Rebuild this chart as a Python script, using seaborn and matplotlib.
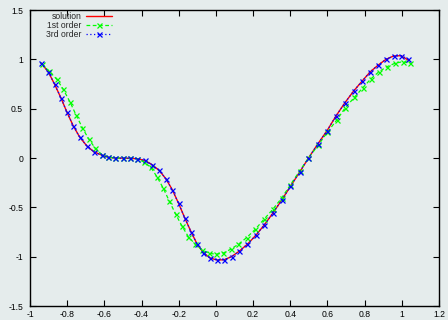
import matplotlib
matplotlib.use("Agg")
import matplotlib.pyplot as plt
import seaborn as sns
import numpy as np

# ---- data ----
solution_x = [-0.941, -0.902, -0.868, -0.834, -0.801, -0.767, -0.732, -0.694, -0.657, -0.615,
              -0.579, -0.542, -0.501, -0.461, -0.422, -0.382, -0.345, -0.306, -0.270, -0.235,
              -0.201, -0.167, -0.134, -0.102, -0.068, -0.032, 0.006, 0.044, 0.084, 0.125,
              0.169, 0.215, 0.260, 0.307, 0.354, 0.401, 0.450, 0.497, 0.548, 0.598,
              0.646, 0.694, 0.741, 0.788, 0.831, 0.874, 0.915, 0.956, 0.996, 1.040]
solution_y = [0.962, 0.875, 0.748, 0.611, 0.463, 0.324, 0.210, 0.122, 0.064, 0.030,
              0.007, 0.000, -0.002, -0.003, -0.008, -0.025, -0.066, -0.125, -0.208, -0.320,
              -0.459, -0.610, -0.747, -0.869, -0.958, -1.013, -1.034, -1.031, -1.000, -0.945,
              -0.875, -0.783, -0.679, -0.557, -0.426, -0.287, -0.145, -0.003, 0.142, 0.277,
              0.426, 0.560, 0.679, 0.783, 0.875, 0.943, 1.000, 1.034, 1.037, 0.985]

first_x = [-0.938, -0.898, -0.856, -0.821, -0.785, -0.753, -0.719, -0.684, -0.649, -0.614,
           -0.579, -0.541, -0.501, -0.461, -0.422, -0.386, -0.350, -0.317, -0.283, -0.250,
           -0.216, -0.182, -0.148, -0.111, -0.073, -0.037, 0.000, 0.040, 0.079, 0.121,
           0.166, 0.212, 0.260, 0.306, 0.353, 0.401, 0.450, 0.498, 0.551, 0.599,
           0.650, 0.696, 0.745, 0.790, 0.833, 0.877, 0.920, 0.963, 1.005, 1.046]
first_y = [0.953, 0.882, 0.798, 0.696, 0.568, 0.439, 0.309, 0.191, 0.099, 0.035,
           0.007, 0.000, -0.002, -0.003, -0.010, -0.041, -0.096, -0.190, -0.307, -0.439,
           -0.571, -0.692, -0.798, -0.875, -0.932, -0.966, -0.975, -0.963, -0.925, -0.874,
           -0.806, -0.722, -0.618, -0.520, -0.408, -0.271, -0.132, 0.000, 0.132, 0.260,
           0.385, 0.510, 0.615, 0.712, 0.801, 0.875, 0.925, 0.960, 0.976, 0.960]

third_x = [-0.941, -0.902, -0.868, -0.834, -0.801, -0.767, -0.732, -0.694, -0.657, -0.615,
           -0.579, -0.542, -0.501, -0.461, -0.422, -0.382, -0.345, -0.306, -0.270, -0.235,
           -0.201, -0.167, -0.134, -0.102, -0.068, -0.032, 0.006, 0.044, 0.084, 0.125,
           0.169, 0.215, 0.260, 0.307, 0.354, 0.401, 0.450, 0.497, 0.548, 0.598,
           0.646, 0.694, 0.741, 0.788, 0.831, 0.874, 0.915, 0.956, 0.996, 1.035]
third_y = [0.960, 0.875, 0.748, 0.611, 0.463, 0.324, 0.210, 0.122, 0.064, 0.030,
           0.007, 0.000, -0.002, -0.003, -0.008, -0.025, -0.066, -0.125, -0.208, -0.320,
           -0.459, -0.610, -0.747, -0.869, -0.958, -1.013, -1.034, -1.031, -1.000, -0.945,
           -0.875, -0.783, -0.679, -0.557, -0.426, -0.287, -0.145, -0.003, 0.142, 0.277,
           0.426, 0.560, 0.679, 0.783, 0.875, 0.943, 1.000, 1.034, 1.037, 1.003]

labels = ["solution", "1st order", "3rd order"]
x_ticks = [-1, -0.8, -0.6, -0.4, -0.2, 0, 0.2, 0.4, 0.6, 0.8, 1, 1.2]
x_ticklabels = ["-1", "-0.8", "-0.6", "-0.4", "-0.2", "0", "0.2", "0.4", "0.6", "0.8", "1", "1.2"]
y_ticks = [-1.5, -1, -0.5, 0, 0.5, 1, 1.5]
y_ticklabels = ["-1.5", "-1", "-0.5", "0", "0.5", "1", "1.5"]

# ---- style ----
sns.set_style("ticks")
bg = "#e5ecec"
plt.rcParams["font.family"] = ["Liberation Sans", "DejaVu Sans"]
plt.rcParams["font.size"] = 6.2

fig = plt.figure(figsize=(4.48, 3.2), dpi=100, facecolor=bg)
ax = fig.add_axes([30 / 448, 1 - 306 / 320, (439 - 30) / 448, (306 - 10) / 320])
ax.set_facecolor(bg)

red, green, blue = "#ff0000", "#00ff00", "#0000ff"
sns.lineplot(x=solution_x, y=solution_y, ax=ax, color=red, lw=1.0,
             sort=False, estimator=None, label=labels[0])
sns.lineplot(x=first_x, y=first_y, ax=ax, color=green, lw=0.9,
             linestyle=(0, (3, 2)), marker="x", markersize=3.6, markeredgewidth=0.9,
             markeredgecolor=green, markerfacecolor=green,
             sort=False, estimator=None, label=labels[1])
sns.lineplot(x=third_x, y=third_y, ax=ax, color=blue, lw=0.9,
             linestyle=(0, (1, 2)), marker="x", markersize=3.6, markeredgewidth=0.9,
             markeredgecolor=blue, markerfacecolor=blue,
             sort=False, estimator=None, label=labels[2])

ax.set_xlim(-1, 1.2)
ax.set_ylim(-1.5, 1.5)
ax.set_xticks(x_ticks)
ax.set_xticklabels(x_ticklabels)
ax.set_yticks(y_ticks)
ax.set_yticklabels(y_ticklabels)
ax.tick_params(direction="in", length=4, width=0.8, top=True, right=True,
               labelsize=6.2, colors="black")
ax.tick_params(axis="x", pad=3)
ax.tick_params(axis="y", pad=5)
for s in ax.spines.values():
    s.set_visible(True)
    s.set_linewidth(1.0)
    s.set_color("black")
ax.set_xlabel("")
ax.set_ylabel("")

leg = ax.legend(loc="upper left", bbox_to_anchor=(0.03, 1.005), frameon=False,
                markerfirst=False, handlelength=3.1, handletextpad=0.5,
                labelspacing=0.0, borderaxespad=0.0, fontsize=6.2)

fig.savefig("out.png", dpi=100, facecolor=bg)
